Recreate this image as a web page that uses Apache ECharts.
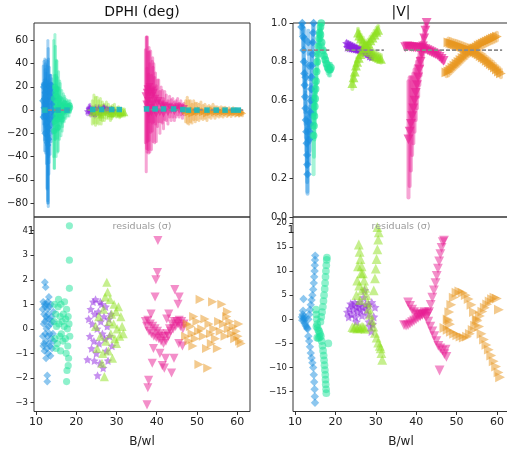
<!DOCTYPE html>
<html><head><meta charset="utf-8">
<script src="https://cdn.jsdelivr.net/npm/echarts@6/dist/echarts.min.js"></script>
<style>html,body{margin:0;padding:0;background:#fff}#c{width:507px;height:456px}</style>
</head><body><div id="c"></div>
<script>
// ---------- tick labels ----------
const xTicks = [10, 20, 30, 40, 50, 60];
const dphiTicks = [-80, -60, -40, -20, 0, 20, 40, 60];
const visTicks = [0, 0.2, 0.4, 0.6, 0.8, 1.0];
const dresTicks = [-3, -2, -1, 0, 1, 2, 3, 4];
const vresTicks = [-15, -10, -5, 0, 5, 10, 15, 20];

// ---------- DPHI (deg): [B/wl, value, error] ----------
const blueDphi = [[11.6,8,15],[11.8,20,18],[11.9,2,14],[12.0,22,20],[12.1,-4,22],[12.2,15,29],[12.3,5,30],[12.35,12,28],[12.4,-5,32],[12.45,24,8],[12.5,18,25],[12.6,-12,34],[12.7,8,30],[12.75,-28,40],[12.8,-22,45],[12.9,-18,60],[12.95,-10,70],[13.0,-30,50],[13.05,-15,68],[13.1,2,42],[13.2,-15,40],[13.25,-25,20],[13.3,12,25],[13.4,20,10],[13.5,-8,30],[13.6,18,12],[13.7,22,8],[13.8,-2,25],[13.9,15,12],[14.0,5,18],[14.1,-5,15],[14.2,10,10],[14.3,0,12],[12.15,-20,15],[11.7,-6,12],[12.05,10,16],[12.55,-2,24]];
const greenDphi = [[14.4,10,50],[14.5,-18,32],[14.6,-10,40],[14.7,20,45],[14.8,15,40],[15.0,-5,35],[15.1,18,25],[15.2,12,30],[15.4,-8,28],[15.5,-15,20],[15.6,8,25],[15.8,-3,22],[16.0,5,18],[16.2,-6,16],[16.4,3,14],[16.6,-2,12],[16.8,4,10],[17.0,-1,9],[17.2,2,8],[17.4,0,7],[17.6,3,6],[17.8,1,6],[18.0,3,5],[18.2,0,5],[18.4,4,4],[18.5,2,4],[15.3,2,26],[15.9,10,15],[16.5,-8,10],[17.1,6,6]];
const purpleDphi = [[22.8,-1,3],[23.2,1,3],[23.4,2,3],[23.6,-2,3],[24.0,0,3],[24.4,-1.5,3],[24.6,-3,3],[24.8,1,3],[25.2,-0.5,2.5],[25.6,1.5,2.5],[25.8,-2,3],[26.0,-1,2.5],[26.4,0.5,2.5],[26.8,2,2.5],[27.0,1.5,2],[27.2,-0.5,2.5],[27.6,1,2],[28.0,0,2],[28.4,-1,2],[28.8,0.5,2],[29.2,-0.5,2]];
const limeDphi = [[24.0,-2,10],[24.4,1,12],[24.8,-1,12],[25.2,0,11],[25.6,-2,10],[26.0,1,9],[26.2,-4,8],[26.5,-1,8],[27.0,-2,7],[27.5,0,7],[28.0,-1,6],[28.5,-3,6],[28.8,-2.5,5],[29.0,-1,5],[29.5,0,5],[30.0,-2,4],[30.5,-1,4],[30.8,-3,3.5],[31.0,-2,3.5],[31.5,-1.5,3],[32.0,-2,3]];
const magentaDphi = [[37.2,12,40],[37.4,5,58],[37.5,15,48],[37.6,0,36],[37.7,18,45],[37.9,8,42],[38.0,-3,34],[38.1,14,40],[38.3,2,38],[38.5,16,35],[38.7,-2,32],[38.9,12,30],[39.1,5,32],[39.3,15,25],[39.5,0,28],[39.7,10,22],[39.9,-3,24],[40.2,6,20],[40.5,8,18],[40.8,-2,18],[41.1,5,15],[41.4,3,14],[41.7,-3,13],[42.0,4,12],[42.4,2,11],[42.8,-2,10],[43.2,3,9],[43.6,0,9],[44.0,2,8],[44.4,-1,8],[44.8,1,7],[45.2,3,7],[45.6,0,6],[46.0,2,6],[46.4,-1,6],[46.8,1,5],[38.2,20,30],[39.0,17,28]];
const orangeDphi = [[47.2,-1,9],[47.6,0,11],[48.0,-2,10],[48.4,-1,9],[48.8,-3,8],[49.2,0,8],[49.6,-2,8],[50.0,-1,7],[50.5,-2,7],[51.0,0,7],[51.5,-2,6],[52.0,-1,6],[52.5,-3,6],[53.0,-1,5],[53.5,-2,5],[54.0,0,5],[54.5,-2,5],[55.0,-1,4],[55.5,-2,4],[56.0,-1,4],[56.5,-2,4],[57.0,-1,3.5],[57.5,-2,3.5],[58.0,-1,3],[58.5,-2.5,3],[59.0,-1,3],[59.5,-2,3],[60.0,-1.5,2.5],[60.5,-2.5,2.5],[61.0,-2,2],[61.3,-2.8,2]];
const dphiModel = [[[11.5,0],[18.7,0]],[[22.8,0],[31.5,0]],[[37.0,0.5],[61.5,0]]];
const dphiModelMarks = [[12.2,0],[15.5,0],[17.7,0],[24.1,0.5],[26.3,0.5],[28.8,0.5],[30.7,0.5],[37.5,1],[39.6,1],[41.7,1],[44.2,1],[46.5,0.5],[47.9,0],[50,0],[52.5,0],[54.8,0],[57,0],[59.1,0],[60.3,0]];

// ---------- |V|: [B/wl, value, error] ----------
const blueVis = [[11.8,1.0,0.05],[12.0,0.93,0.05],[12.1,0.86,0.06],[12.2,0.8,0.06],[12.3,0.74,0.07],[12.4,0.68,0.07],[12.5,0.62,0.08],[12.6,0.56,0.08],[12.7,0.5,0.09],[12.8,0.44,0.1],[12.9,0.38,0.12],[13.0,0.32,0.14],[13.05,0.27,0.14],[13.1,0.22,0.1],[14.6,1.0,0.04],[14.5,0.95,0.05],[14.4,0.9,0.05],[14.3,0.84,0.06],[14.2,0.78,0.06],[14.1,0.72,0.07],[14.0,0.66,0.07],[13.9,0.6,0.08],[13.8,0.54,0.08],[13.7,0.48,0.09],[13.6,0.44,0.1],[13.5,0.4,0.12],[11.6,0.98,0.04],[12.3,0.92,0.05],[13.3,0.9,0.06],[13.5,0.78,0.07],[12.6,0.72,0.07]];
const greenVis = [[14.6,0.42,0.2],[14.7,0.47,0.16],[14.8,0.52,0.12],[14.9,0.57,0.1],[15.0,0.61,0.08],[15.1,0.66,0.07],[15.2,0.7,0.06],[15.35,0.75,0.06],[15.5,0.8,0.05],[15.65,0.84,0.05],[15.8,0.88,0.04],[15.95,0.92,0.04],[16.1,0.95,0.04],[16.3,0.98,0.04],[16.5,1.0,0.03],[16.9,0.86,0.03],[17.2,0.83,0.03],[17.5,0.81,0.03],[17.8,0.79,0.03],[18.1,0.77,0.03],[18.4,0.76,0.03],[18.7,0.76,0.03],[18.9,0.77,0.02],[16.6,0.9,0.03],[16.3,0.94,0.03]];
const purpleVis = [[22.8,0.895,0.01],[23.3,0.89,0.01],[23.8,0.885,0.01],[24.3,0.88,0.01],[24.8,0.875,0.01],[25.3,0.87,0.01],[25.8,0.865,0.01],[26.3,0.86,0.01],[26.8,0.855,0.01],[27.3,0.85,0.01],[27.8,0.845,0.01],[28.3,0.84,0.01],[28.8,0.835,0.01],[23.0,0.875,0.01],[23.5,0.872,0.01],[24.0,0.87,0.01],[24.5,0.868,0.01],[25.0,0.866,0.01],[25.5,0.864,0.01],[26.0,0.862,0.01],[26.5,0.86,0.01],[27.0,0.858,0.01],[27.5,0.85,0.01],[28.0,0.84,0.01],[28.5,0.83,0.01],[29.0,0.825,0.01]];
const limeVis = [[24.2,0.69,0.03],[24.5,0.72,0.02],[24.8,0.75,0.02],[25.1,0.78,0.02],[25.4,0.8,0.02],[25.8,0.82,0.02],[26.2,0.84,0.02],[26.7,0.855,0.02],[27.2,0.87,0.02],[27.7,0.88,0.02],[28.2,0.895,0.02],[28.7,0.91,0.02],[29.2,0.925,0.02],[29.7,0.94,0.02],[30.2,0.955,0.02],[30.6,0.965,0.02],[25.6,0.95,0.02],[25.9,0.935,0.02],[26.3,0.92,0.02],[26.8,0.905,0.02],[27.3,0.89,0.02],[27.8,0.875,0.02],[28.3,0.86,0.02],[28.8,0.85,0.02],[29.3,0.84,0.02],[29.8,0.83,0.02],[30.3,0.825,0.02],[30.8,0.82,0.02],[31.3,0.815,0.02]];
const magentaVis = [[42.6,1.0,0.02],[42.3,0.96,0.03],[42.0,0.92,0.04],[41.7,0.88,0.05],[41.4,0.84,0.06],[41.1,0.8,0.07],[40.8,0.76,0.08],[40.5,0.72,0.1],[40.2,0.68,0.12],[39.9,0.64,0.14],[39.6,0.6,0.16],[39.3,0.56,0.18],[39.0,0.52,0.2],[38.7,0.48,0.24],[38.4,0.44,0.28],[38.1,0.4,0.3],[37.3,0.875,0.01],[37.8,0.88,0.01],[38.3,0.878,0.01],[38.8,0.876,0.01],[39.3,0.875,0.01],[39.8,0.874,0.01],[40.3,0.873,0.01],[40.8,0.872,0.01],[41.3,0.87,0.01],[41.8,0.868,0.01],[42.3,0.865,0.01],[42.8,0.86,0.01],[43.3,0.855,0.01],[43.8,0.85,0.01],[44.3,0.845,0.01],[44.8,0.84,0.01],[45.3,0.835,0.01],[45.8,0.825,0.01],[46.3,0.815,0.01],[46.8,0.805,0.01]];
const orangeVis = [[47.5,0.745,0.02],[48,0.75,0.02],[48.5,0.76,0.02],[49,0.77,0.02],[49.5,0.78,0.02],[50,0.79,0.02],[50.5,0.8,0.02],[51,0.81,0.02],[51.5,0.82,0.02],[52,0.83,0.02],[52.5,0.84,0.02],[53,0.85,0.02],[53.5,0.86,0.02],[54,0.865,0.02],[54.5,0.87,0.02],[55,0.875,0.02],[55.5,0.885,0.02],[56,0.89,0.02],[56.5,0.895,0.02],[57,0.9,0.02],[57.5,0.905,0.02],[58,0.91,0.02],[58.5,0.915,0.02],[59,0.92,0.02],[59.5,0.925,0.02],[60,0.93,0.02],[48,0.9,0.02],[48.5,0.897,0.02],[49,0.893,0.02],[49.5,0.89,0.02],[50,0.887,0.02],[50.5,0.883,0.02],[51,0.88,0.02],[51.5,0.876,0.02],[52,0.872,0.02],[52.5,0.868,0.02],[53,0.864,0.02],[53.5,0.86,0.02],[54,0.855,0.02],[54.5,0.85,0.02],[55,0.845,0.02],[55.5,0.838,0.02],[56,0.83,0.02],[56.5,0.822,0.02],[57,0.815,0.02],[57.5,0.805,0.02],[58,0.797,0.02],[58.5,0.788,0.02],[59,0.78,0.02],[59.5,0.77,0.02],[60,0.76,0.02],[60.5,0.75,0.02],[61,0.74,0.02]];
const visModel = [[[11.7,0.86],[18.5,0.86]],[[22.5,0.86],[32.0,0.86]],[[37.0,0.86],[61.3,0.86]]];

// ---------- DPHI residuals (sigma): [B/wl, value] ----------
const blueDres = [[11.6,0.8],[11.7,-0.3],[11.8,1.1],[11.8,-0.7],[11.9,0.2],[12.0,-0.6],[12.0,0.6],[12.1,1.0],[12.1,-0.9],[12.2,1.9],[12.2,0.3],[12.3,-0.2],[12.3,0.9],[12.4,1.7],[12.4,-0.5],[12.5,0.5],[12.5,-1.2],[12.6,0.0],[12.6,1.0],[12.7,-0.8],[12.7,0.4],[12.8,-1.9],[12.8,-2.15],[12.8,0.8],[12.9,-0.3],[12.9,1.1],[13.0,0.6],[13.0,-1.0],[13.1,0.1],[13.2,1.3],[13.2,-0.6],[13.3,0.4],[13.4,-0.2],[13.4,0.9],[13.5,-0.7],[13.6,0.2],[13.6,-1.1],[13.7,1.0],[13.8,-0.4],[13.9,0.5],[14.0,-0.8],[14.1,0.3],[14.2,-0.2],[14.3,0.7],[14.4,-0.5]];
const greenDres = [[14.5,0.3],[14.6,1.0],[14.7,-0.4],[14.9,0.6],[15.0,-0.8],[15.1,0.1],[15.3,-0.6],[15.5,0.9],[15.6,1.2],[15.7,0.2],[15.9,-0.3],[16.0,0.5],[16.1,-0.9],[16.2,1.0],[16.3,-0.2],[16.5,0.3],[16.7,-0.5],[16.8,0.6],[17.0,0.1],[17.1,1.1],[17.3,-0.4],[17.4,0.4],[17.5,-1.0],[17.6,0.8],[17.6,-2.15],[17.7,-1.7],[17.8,0.0],[17.9,-0.7],[18.0,-1.5],[18.0,0.5],[18.1,-1.2],[18.2,0.2],[18.3,1.65],[18.3,2.8],[18.3,4.2],[18.4,-0.3]];
const purpleDres = [[22.8,-1.25],[23.1,0.4],[23.4,-0.3],[23.6,0.8],[23.8,-0.8],[24.0,0.2],[24.2,1.1],[24.4,-0.5],[24.5,-1.3],[24.6,0.6],[24.8,1.2],[25.0,-1.0],[25.2,0.0],[25.3,-1.9],[25.5,0.7],[25.7,-0.6],[25.9,-1.4],[26.0,1.1],[26.1,0.3],[26.3,1.0],[26.5,-0.2],[26.7,-1.6],[26.9,0.5],[27.1,-0.4],[27.3,0.9],[27.5,-0.9],[27.7,0.1],[27.9,-1.3],[28.1,0.4],[28.3,-0.3],[28.6,0.6],[28.9,-0.7]];
const limeDres = [[24.8,0.1],[25.2,-0.8],[25.6,0.5],[26.0,-0.3],[26.4,-1.4],[26.6,-1.0],[26.8,0.8],[27.0,-1.95],[27.2,1.3],[27.4,-0.5],[27.6,1.9],[27.8,1.5],[28.0,-0.9],[28.2,0.3],[28.4,1.2],[28.6,-0.2],[28.8,0.6],[29.0,-1.2],[29.3,0.2],[29.4,1.0],[29.6,-0.4],[29.9,0.7],[30.0,-0.6],[30.2,0.0],[30.5,0.9],[30.8,-0.3],[31.1,0.5],[31.4,0.1],[31.7,-0.2]];
const magentaDres = [[37.2,0.3],[37.5,0.1],[37.8,0.35],[38.1,-0.1],[38.4,0.2],[38.7,-0.2],[39.0,0.1],[39.3,-0.3],[39.6,0.0],[39.9,-0.35],[40.2,-0.1],[40.5,-0.4],[40.8,-0.2],[41.1,-0.5],[41.4,-0.3],[41.7,-0.6],[42.0,-0.3],[42.3,-0.5],[42.6,-0.2],[42.9,-0.3],[43.2,0.0],[43.5,-0.1],[43.8,0.2],[44.1,0.0],[44.4,0.3],[44.7,0.1],[45.0,0.3],[45.3,0.2],[45.6,0.35],[45.9,0.1],[46.2,0.3],[46.5,0.0],[46.8,0.2],[40.3,3.6],[40.2,2.3],[39.8,2.0],[39.6,1.3],[37.6,-3.1],[37.8,-2.4],[38.0,-2.1],[41.4,-1.5],[41.9,-1.6],[43.7,-1.8],[44.5,1.6],[45.3,1.0],[45.6,1.3],[45.5,-0.6],[44.3,-1.2],[38.6,0.6],[39.2,-0.8],[40.8,-1.0],[42.2,-1.2],[43.0,0.6],[38.9,-1.4],[46.4,-0.7],[42.5,0.4]];
const orangeDres = [[47.2,-0.3],[47.6,0.2],[48.0,-0.5],[48.4,0.1],[48.8,-0.2],[49.0,-0.7],[49.2,0.5],[49.6,-0.4],[50.0,0.3],[50.4,-0.1],[50.5,-1.45],[50.8,1.2],[51.2,0.0],[51.6,-0.3],[52.0,0.4],[52.4,-0.8],[52.7,-1.6],[53.0,0.2],[53.4,-0.2],[53.6,-0.6],[53.9,1.1],[54.2,0.0],[54.6,-0.4],[55.1,-0.8],[55.4,0.3],[55.8,-0.1],[56.2,1.0],[56.6,0.2],[57.0,-0.3],[57.4,0.5],[57.6,0.7],[57.8,0.0],[58.2,0.3],[58.6,-0.2],[59.0,0.1],[59.4,-0.4],[59.8,-0.1],[60.2,-0.3],[60.4,0.2],[60.6,-0.5],[61.0,-0.6]];

// ---------- |V| residuals (sigma): [B/wl, value] ----------
const blueVres = [[11.7,0.5],[11.8,-0.2],[11.9,1.0],[12.0,1.8],[12.1,0.2],[12.1,4.2],[12.2,-0.3],[12.3,0.6],[12.4,-0.8],[12.5,0.1],[12.6,-1.2],[12.8,-1.5],[13.0,-1.8],[13.1,-2.0],[13.3,-3.5],[13.5,-4.5],[13.7,-5.7],[13.9,-7.0],[14.1,-8.0],[14.3,-9.0],[14.5,-10.0],[14.65,-11.5],[14.75,-13.0],[14.85,-14.5],[14.9,-16.0],[14.95,-17.3],[13.3,0.0],[13.5,1.0],[13.7,2.0],[13.9,3.0],[14.1,4.0],[14.3,5.0],[14.5,6.2],[14.65,7.5],[14.75,8.8],[14.85,10.0],[14.9,11.2],[14.95,12.3],[15.0,13.2]];
const greenVres = [[15.2,2.0],[15.3,1.0],[15.3,-1.5],[15.4,0.0],[15.5,-1.0],[15.5,-3.8],[15.6,-1.8],[15.8,-2.3],[15.8,-3.9],[16.0,-2.5],[16.1,-3.7],[16.2,-3.0],[16.4,-3.5],[16.3,-0.5],[16.5,0.5],[16.7,1.5],[16.9,2.6],[17.05,3.8],[17.2,5.0],[17.35,6.3],[17.45,7.5],[17.55,8.8],[17.65,10.0],[17.75,11.2],[17.85,12.3],[17.9,12.8],[16.6,-4.5],[16.8,-5.5],[16.95,-6.5],[17.1,-7.5],[17.2,-8.5],[17.3,-9.5],[17.4,-10.5],[17.5,-11.5],[17.55,-12.5],[17.6,-13.5],[17.7,-14.5],[17.75,-15.3],[18.25,-5.0]];
const purpleVres = [[23.0,1.5],[23.3,0.5],[23.5,2.2],[23.8,3.2],[24.0,1.0],[24.3,3.0],[24.6,2.0],[24.8,3.5],[25.0,0.5],[25.2,-0.5],[25.3,2.5],[25.6,1.5],[25.8,2.8],[26.0,3.5],[26.3,1.8],[26.6,0.8],[26.8,2.5],[27.0,4.5],[27.2,6.0],[27.4,3.0],[27.7,2.0],[28.0,1.0],[28.2,3.0],[28.3,-0.5],[28.6,-1.5],[28.9,-2.5],[29.0,3.5],[29.2,-1.0],[29.5,0.5],[29.8,2.5]];
const limeVres = [[24.2,-1.6],[24.6,-1.8],[25.0,-1.5],[25.4,-1.9],[25.8,-1.6],[26.2,-1.8],[26.6,-1.5],[27.0,-1.7],[27.4,-2.0],[25.2,5.0],[25.4,8.0],[25.6,11.0],[25.9,7.0],[26.1,4.0],[26.4,9.5],[26.6,6.0],[25.8,15.5],[26.0,14.0],[26.2,12.5],[26.5,11.0],[26.8,9.5],[27.1,8.0],[27.4,6.5],[27.7,5.0],[28.0,3.5],[28.3,2.2],[28.6,1.0],[29.0,-0.2],[29.4,-1.5],[29.8,-2.8],[30.2,-3.8],[30.6,-4.8],[31.0,-5.5],[29.5,6.0],[29.8,8.5],[30.0,10.5],[30.2,12.5],[30.4,14.5],[30.6,16.5],[30.75,18.0],[30.4,19.1],[31.2,-6.0],[31.4,-7.0],[31.6,-8.4]];
const magentaVres = [[37.0,-1.2],[37.5,-1.3],[38.0,-1.2],[38.5,-0.9],[39.0,-0.6],[39.5,-0.3],[40.0,0.0],[40.5,0.3],[41.0,0.6],[41.5,0.9],[42.0,1.1],[42.5,1.3],[43.0,1.2],[38.0,3.5],[38.5,2.8],[39.0,2.0],[39.5,1.5],[40.0,1.2],[40.5,0.9],[41.0,0.8],[41.5,1.0],[43.2,1.5],[43.6,3.0],[44.0,4.5],[44.4,6.0],[44.8,7.5],[45.1,9.0],[45.4,10.5],[45.7,12.0],[46.0,13.5],[46.3,14.8],[46.6,16.0],[46.9,16.3],[42.0,1.5],[42.5,0.5],[43.0,-0.5],[43.5,-1.5],[44.0,-2.5],[44.5,-3.5],[45.0,-4.5],[45.5,-5.5],[46.0,-6.0],[46.5,-6.5],[47.0,-7.2],[47.5,-7.8],[45.8,-10.6],[47.3,-6.3]];
const orangeVres = [[47.8,0.0],[48.2,1.5],[48.7,3.0],[49.3,4.5],[50.0,5.5],[50.7,5.8],[51.5,5.5],[52.3,5.0],[53.0,4.2],[53.7,3.0],[54.3,1.5],[55.0,0.0],[55.6,-1.5],[56.2,-3.0],[56.8,-4.2],[57.4,-5.3],[58.0,-6.3],[58.6,-7.5],[59.2,-8.7],[59.8,-9.8],[60.4,-11.0],[60.8,-12.0],[47.0,-1.8],[47.8,-2.2],[48.6,-2.6],[49.4,-3.0],[50.2,-3.3],[51.0,-3.6],[51.8,-3.8],[52.6,-3.6],[53.3,-3.0],[54.0,-2.2],[54.6,-1.3],[55.2,-0.3],[55.8,0.7],[56.4,1.6],[57.0,2.4],[57.6,3.1],[58.2,3.7],[58.8,4.2],[59.4,4.5],[60.0,4.3],[60.5,2.0],[48.0,-0.3],[48.4,-1.0]];

// ---------- styles ----------
const STAR = 'path://M0,-10 L2.9,-4 9.5,-3.1 4.8,1.5 5.9,8.1 0,5 -5.9,8.1 -4.8,1.5 -9.5,-3.1 -2.9,-4 Z';
const S = {
  blue:    {color:'#1b8fe0', symbol:'diamond', rot:0, size:6},
  green:   {color:'#1de39a', symbol:'circle', rot:0, size:5.5},
  purple:  {color:'#8d22e0', symbol:STAR, rot:0, size:6.5},
  lime:    {color:'#8ee01e', symbol:'triangle', rot:0, size:7},
  magenta: {color:'#e81e94', symbol:'triangle', rot:180, size:7},
  orange:  {color:'#e8961e', symbol:'triangle', rot:-90, size:7}
};
const FONT = 'DejaVu Sans';
const series = [];

function errBars(data, gi, st, lw, op) {
  series.push({
    type:'custom', xAxisIndex:gi, yAxisIndex:gi, data:data, clip:true, silent:true, z:1,
    encode:{x:0, y:1},
    renderItem:function(params, api){
      const x = api.value(0), y = api.value(1), e = api.value(2);
      const p1 = api.coord([x, y - e]), p2 = api.coord([x, y + e]);
      return {type:'line', shape:{x1:p1[0], y1:p1[1], x2:p2[0], y2:p2[1]},
        style:{stroke:st.color, lineWidth:lw, opacity:op, lineCap:'round'}};
    }
  });
}
function pts(data, gi, st, alpha, sizeMul) {
  series.push({
    type:'scatter', xAxisIndex:gi, yAxisIndex:gi, z:2, silent:true,
    data:data.map(d => [d[0], d[1]]),
    symbol:st.symbol, symbolRotate:st.rot, symbolSize:st.size * (sizeMul || 1),
    itemStyle:{color:st.color, opacity:alpha}
  });
}
function model(segs, gi) {
  segs.forEach(seg => series.push({
    type:'line', xAxisIndex:gi, yAxisIndex:gi, data:seg, symbol:'none', z:3, silent:true,
    lineStyle:{color:'#8a8a8a', width:1.6, type:[4,2]}
  }));
}

const sets = [
  ['blue', blueDphi, blueVis, blueDres, blueVres],
  ['green', greenDphi, greenVis, greenDres, greenVres],
  ['purple', purpleDphi, purpleVis, purpleDres, purpleVres],
  ['lime', limeDphi, limeVis, limeDres, limeVres],
  ['magenta', magentaDphi, magentaVis, magentaDres, magentaVres],
  ['orange', orangeDphi, orangeVis, orangeDres, orangeVres]
];
sets.forEach(s => {
  const st = S[s[0]];
  errBars(s[1], 0, st, 3, 0.4); pts(s[1], 0, st, 0.6, 1.1);
  errBars(s[2], 1, st, 4, 0.4); pts(s[2], 1, st, 0.65, 1.4);
  pts(s[3], 2, st, 0.5, 1.3);
  pts(s[4], 3, st, 0.5, 1.4);
});
model(dphiModel, 0);
model(visModel, 1);
series.push({type:'scatter', xAxisIndex:0, yAxisIndex:0, z:4, silent:true, data:dphiModelMarks,
  symbol:'rect', symbolSize:5.5, itemStyle:{color:'#1fb8bb', opacity:0.95}});

const minus = v => String(v).replace('-', '\u2212');
const grids = [
  {left:34, top:23, width:216, height:194},
  {left:293, top:23, width:216, height:194},
  {left:34, top:217, width:216, height:194.5},
  {left:293, top:217, width:216, height:194.5}
].map(g => Object.assign(g, {show:true, borderColor:'#333', borderWidth:1, backgroundColor:'transparent', containLabel:false, outerBoundsMode:'none'}));

function xAx(gi, max, showLabels) {
  return {type:'value', gridIndex:gi, min:9.5, max:max, splitLine:{show:false},
    axisLine:{show:false, onZero:false},
    axisTick:{show:showLabels, length:3.5, lineStyle:{color:'#333'}, customValues:xTicks},
    axisLabel:{show:showLabels, customValues:xTicks, fontFamily:FONT, fontSize:11, color:'#222', margin:5},
    name: showLabels ? 'B/wl' : '', nameLocation:'middle', nameGap:24,
    nameTextStyle:{fontFamily:FONT, fontSize:12, color:'#222'}};
}
function yAx(gi, min, max, ticks, fs, fmt) {
  return {type:'value', gridIndex:gi, min:min, max:max, splitLine:{show:false},
    axisLine:{show:false, onZero:false},
    axisTick:{show:true, length:3.5, lineStyle:{color:'#333'}, customValues:ticks},
    axisLabel:{customValues:ticks, fontFamily:FONT, fontSize:fs, color:'#222', margin:6, formatter:fmt}};
}

const option = {
  animation:false,
  backgroundColor:'#fff',
  grid:grids,
  xAxis:[xAx(0,63.2,false), xAx(1,63.0,false), xAx(2,63.2,true), xAx(3,63.0,true)],
  yAxis:[
    yAx(0, -92, 75, dphiTicks, 10, v => minus(v)),
    yAx(1, 0, 1.0, visTicks, 10, v => v.toFixed(1)),
    yAx(2, -3.37, 4.56, dresTicks, 8.5, v => minus(v)),
    yAx(3, -19.1, 21.2, vresTicks, 8.5, v => minus(v))
  ],
  graphic:[
    {type:'text', x:142, y:12, style:{text:'DPHI (deg)', font:'14px "DejaVu Sans"', fill:'#111', align:'center', verticalAlign:'middle'}},
    {type:'text', x:401, y:12, style:{text:'|V|', font:'14px "DejaVu Sans"', fill:'#111', align:'center', verticalAlign:'middle'}},
    {type:'text', x:142, y:227, z:10, style:{text:'residuals (\u03c3)', font:'9.5px "DejaVu Sans"', fill:'#9a9a9a', align:'center', verticalAlign:'middle'}},
    {type:'text', x:401, y:227, z:10, style:{text:'residuals (\u03c3)', font:'9.5px "DejaVu Sans"', fill:'#9a9a9a', align:'center', verticalAlign:'middle'}},
    {type:'text', x:31, y:231, style:{text:'1', font:'11px "DejaVu Sans"', fill:'#222', align:'center', verticalAlign:'middle'}},
    {type:'text', x:291, y:230, style:{text:'1', font:'11px "DejaVu Sans"', fill:'#222', align:'center', verticalAlign:'middle'}}
  ],
  series:series
};
const chart = echarts.init(document.getElementById('c'), null, {renderer:'canvas'});
chart.setOption(option);
</script></body></html>
